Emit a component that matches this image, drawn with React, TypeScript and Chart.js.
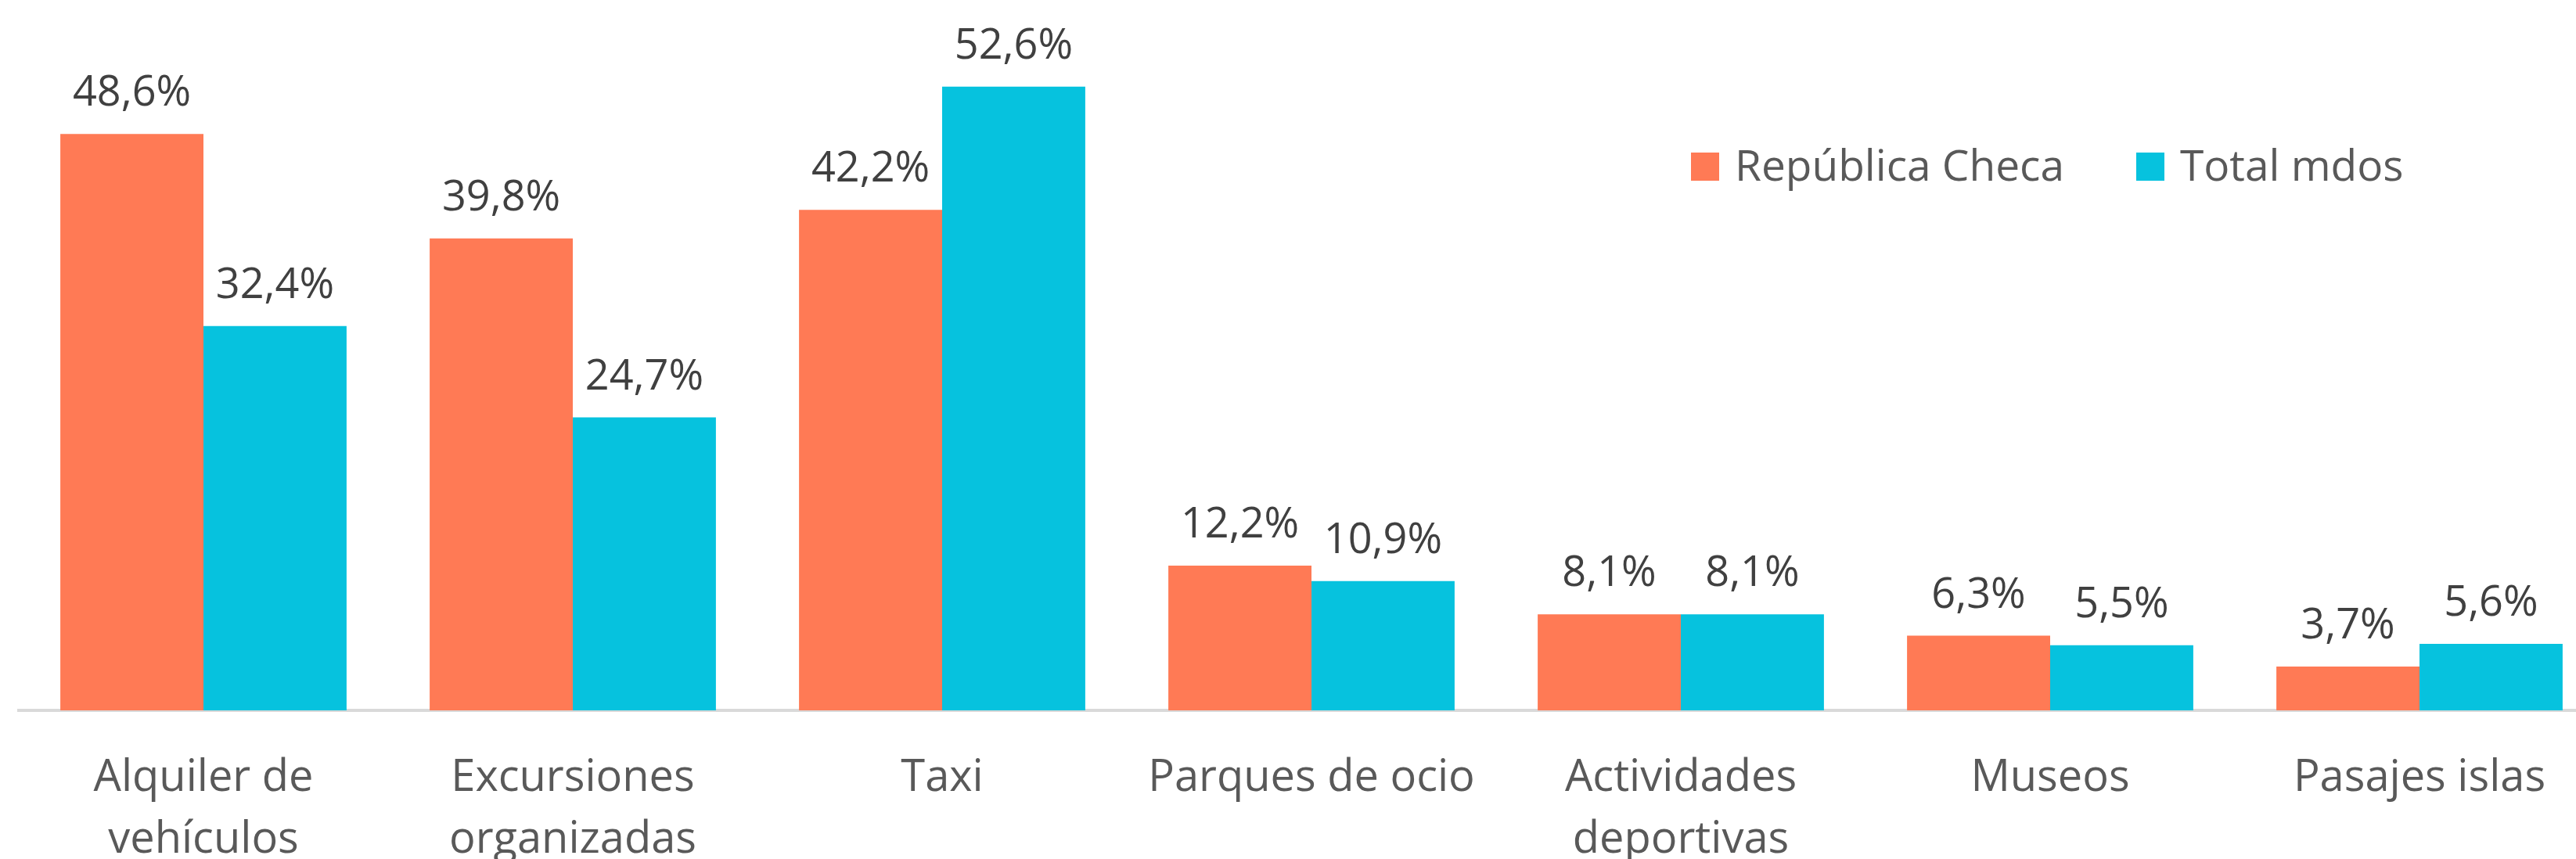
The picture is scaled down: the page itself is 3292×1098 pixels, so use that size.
import React, { useEffect, useRef } from "react";
import { Chart, registerables } from "chart.js";

Chart.register(...registerables);

const categories: (string | string[])[] = [
  ["Alquiler de", "vehículos"],
  ["Excursiones", "organizadas"],
  "Taxi",
  "Parques de ocio",
  ["Actividades", "deportivas"],
  "Museos",
  "Pasajes islas",
];
const seriesNames = ["República Checa", "Total mdos"];
const republicaCheca = [48.6, 39.8, 42.2, 12.2, 8.1, 6.3, 3.7];
const totalMdos = [32.4, 24.7, 52.6, 10.9, 8.1, 5.5, 5.6];
const colors = ["#FF7A55", "#06C2DE"];

const FONT = "'Open Sans', 'Noto Sans', sans-serif";

const labelPlugin = {
  id: "valueLabels",
  afterDatasetsDraw(chart: any) {
    const ctx = chart.ctx;
    ctx.save();
    ctx.font = `54px ${FONT}`;
    ctx.fillStyle = "#404040";
    ctx.textAlign = "center";
    ctx.textBaseline = "alphabetic";
    chart.data.datasets.forEach((ds: any, di: number) => {
      const meta = chart.getDatasetMeta(di);
      meta.data.forEach((bar: any, i: number) => {
        const v = ds.data[i] as number;
        const txt = v.toFixed(1).replace(".", ",") + "%";
        ctx.fillText(txt, bar.x, bar.y - 36);
      });
    });
    ctx.restore();
  },
};

const legendPlugin = {
  id: "customLegend",
  afterDraw(chart: any) {
    const ctx = chart.ctx;
    ctx.save();
    ctx.font = `55px ${FONT}`;
    ctx.textBaseline = "alphabetic";
    ctx.textAlign = "left";
    let x = 2161;
    const boxTop = 195;
    const box = 36;
    chart.data.datasets.forEach((ds: any) => {
      ctx.fillStyle = ds.backgroundColor;
      ctx.fillRect(x, boxTop, box, box);
      x += box + 20;
      ctx.fillStyle = "#595959";
      ctx.fillText(ds.label, x, 231);
      x += ctx.measureText(ds.label).width + 92;
    });
    ctx.restore();
  },
};

export default function App() {
  const ref = useRef<HTMLCanvasElement>(null);
  useEffect(() => {
    if (!ref.current) return;
    const chart = new Chart(ref.current, {
      type: "bar",
      data: {
        labels: categories,
        datasets: [
          {
            label: seriesNames[0],
            data: republicaCheca,
            backgroundColor: colors[0],
            barPercentage: 1,
            categoryPercentage: 0.775,
          },
          {
            label: seriesNames[1],
            data: totalMdos,
            backgroundColor: colors[1],
            barPercentage: 1,
            categoryPercentage: 0.775,
          },
        ],
      },
      options: {
        responsive: false,
        animation: false,
        devicePixelRatio: 1,
        layout: { padding: { left: 24, right: 2, top: 0, bottom: 0 } },
        plugins: {
          legend: { display: false },
          tooltip: { enabled: false },
          title: { display: false },
        },
        scales: {
          x: {
            grid: { display: false, drawTicks: false },
            border: { display: true, color: "#D9D9D9", width: 4 },
            ticks: {
              color: "#595959",
              font: { family: FONT, size: 56, lineHeight: 1.4 },
              padding: 48,
              maxRotation: 0,
              autoSkip: false,
            },
            afterFit(scale: any) {
              scale.height = 190;
            },
          },
          y: {
            display: false,
            min: 0,
            max: 59.9,
          },
        },
      },
      plugins: [labelPlugin, legendPlugin],
    });
    return () => chart.destroy();
  }, []);
  return (
    <div
      style={{
        position: "fixed",
        left: 0,
        top: 0,
        width: 3292,
        height: 1098,
        overflow: "hidden",
        background: "#ffffff",
      }}
    >
      <canvas ref={ref} width={3330} height={1098} style={{ display: "block" }} />
    </div>
  );
}
